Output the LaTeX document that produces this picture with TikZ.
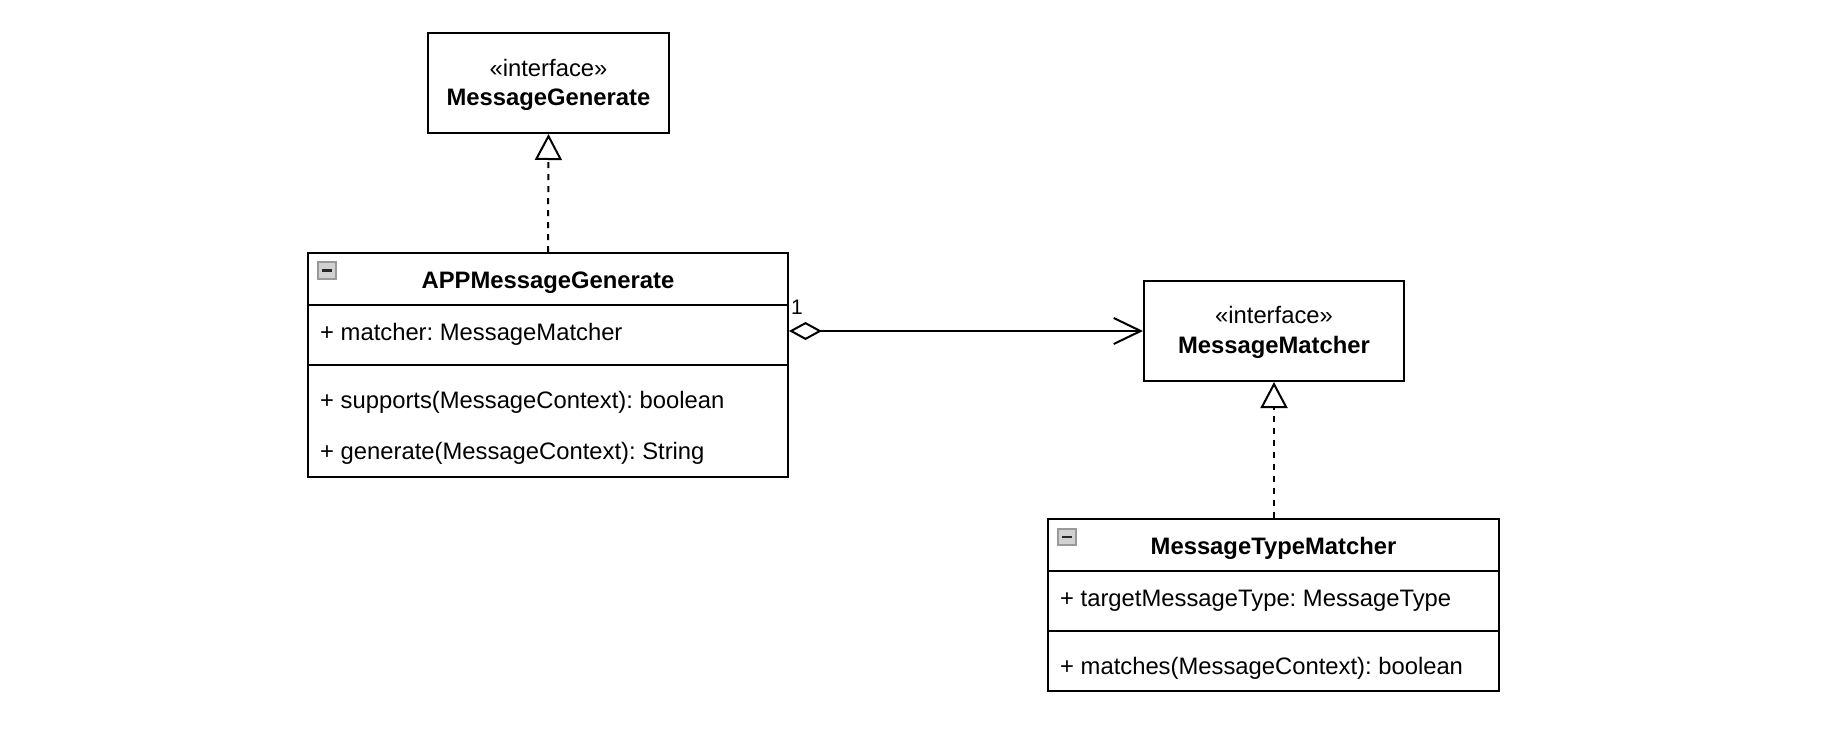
\documentclass[tikz,border=0pt]{standalone}
\usepackage{fontspec}
\setmainfont{Liberation Sans}
\frenchspacing
\usetikzlibrary{arrows.meta}
\tikzset{
  umlbox/.style={draw=black, line width=2pt, fill=white, rectangle, inner sep=0pt},
  sepline/.style={draw=black, line width=2pt},
  txt/.style={inner sep=0pt, font=\fontsize{23.8}{28}\selectfont\frenchspacing},
  btxt/.style={inner sep=0pt, font=\fontsize{23.8}{28}\selectfont\bfseries},
  lbl/.style={inner sep=0pt, font=\fontsize{21}{24}\selectfont},
  realize/.style={line width=2pt, dash pattern=on 6pt off 6pt, -{Triangle[open, length=26pt, width=27pt, line width=2pt]}},
  aggr/.style={line width=2pt, {Diamond[open, length=33pt, width=18pt, line width=2pt]}-{Straight Barb[length=27pt, width=26pt, line width=2pt]}},
  collapseicon/.style={draw=black!40, fill=black!18, line width=1.5pt},
}
\begin{document}
\begin{tikzpicture}[x=1pt, y=-1pt]
\useasboundingbox (0,0) rectangle (1828,750);

% Interface MessageGenerate
\node[umlbox, minimum width=241pt, minimum height=100pt] (ig) at (548.5,83) {};
\node[txt, anchor=base] (igst) at (548.5,76) {«interface»};
\node[btxt, anchor=base] (ignm) at (548.5,105) {MessageGenerate};

% Class APPMessageGenerate
\node[umlbox, minimum width=480pt, minimum height=224pt] (app) at (548,365) {};
\draw[sepline] (app.west |- 0,305) -- (app.east |- 0,305);
\draw[sepline] (app.west |- 0,365) -- (app.east |- 0,365);
\draw[collapseicon] (318,262) rectangle (336,279);
\draw[line width=2.5pt, black!85] (322,270.5) -- (332,270.5);
\node[btxt, anchor=base] (appnm) at (548,288) {APPMessageGenerate};
\node[txt, anchor=base west] (appa1) at (320,340) {+ matcher: MessageMatcher};
\node[txt, anchor=base west] (appo1) at (320,408) {+ supports(MessageContext): boolean};
\node[txt, anchor=base west] (appo2) at (320,459) {+ generate(MessageContext): String};

% Interface MessageMatcher
\node[umlbox, minimum width=260pt, minimum height=100pt] (mm) at (1274,331) {};
\node[txt, anchor=base] (mmst) at (1274,323) {«interface»};
\node[btxt, anchor=base] (mmnm) at (1274,353) {MessageMatcher};

% Class MessageTypeMatcher
\node[umlbox, minimum width=451pt, minimum height=172pt] (mtm) at (1273.5,605) {};
\draw[sepline] (mtm.west |- 0,571) -- (mtm.east |- 0,571);
\draw[sepline] (mtm.west |- 0,631) -- (mtm.east |- 0,631);
\draw[collapseicon] (1058,529) rectangle (1076,545);
\draw[line width=2.5pt, black!85] (1062,537) -- (1072,537);
\node[btxt, anchor=base] (mtmnm) at (1273.5,554) {MessageTypeMatcher};
\node[txt, anchor=base west] (mtma1) at (1060,606) {+ targetMessageType: MessageType};
\node[txt, anchor=base west] (mtmo1) at (1060,674) {+ matches(MessageContext): boolean};

% Connectors
\draw[realize] (app.north) -- (ig.south);
\draw[realize] (mtm.north -| mm.south) -- (mm.south);
\draw[aggr] (app.east |- mm.west) -- (mm.west);
\node[lbl] (mult) at (797,307) {1};
\end{tikzpicture}
\end{document}
